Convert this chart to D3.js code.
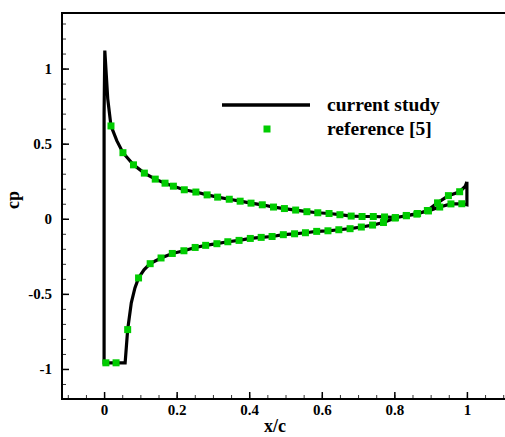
<!DOCTYPE html>
<html lang="en">
<head>
    <meta charset="UTF-8">
    <title>cp distribution</title>
    <style>
        body { margin: 0; background: #fff; overflow: hidden; }
        text { font-family: "Liberation Serif", "Times New Roman", serif; font-weight: bold; }
    </style>
</head>
<body>
    <svg id="container" width="505" height="437"></svg>

<script src="https://cdn.jsdelivr.net/npm/d3@7"></script>
<script>
    // current study (closed loop: upper branch from TE to LE, then lower branch back to TE)
    let lineX = [1.0, 0.995, 0.98, 0.949, 0.919, 0.891, 0.862, 0.833, 0.803, 0.773, 0.742, 0.711, 0.681,
        0.650, 0.620, 0.589, 0.559, 0.528, 0.497, 0.467, 0.436, 0.405, 0.375, 0.345, 0.313, 0.284,
        0.253, 0.221, 0.191, 0.168, 0.141, 0.111, 0.081, 0.052, 0.035, 0.019, 0.010, 0.002, 0.0,
        0.0, 0.058, 0.065, 0.075, 0.085, 0.095, 0.110, 0.127, 0.157, 0.188, 0.220, 0.251, 0.280,
        0.311, 0.341, 0.372, 0.403, 0.433, 0.463, 0.494, 0.525, 0.555, 0.586, 0.617, 0.647, 0.678,
        0.709, 0.740, 0.770, 0.802, 0.833, 0.864, 0.894, 0.925, 0.956, 0.986, 1.0, 1.0]
    let lineCp = [0.246, 0.215, 0.180, 0.154, 0.106, 0.055, 0.031, 0.020, 0.008, 0.012, 0.015, 0.015, 0.018,
        0.027, 0.035, 0.040, 0.047, 0.058, 0.068, 0.078, 0.093, 0.104, 0.117, 0.130, 0.144, 0.159,
        0.178, 0.193, 0.217, 0.237, 0.264, 0.304, 0.359, 0.440, 0.520, 0.618, 0.800, 1.120, 0.700,
        -0.960, -0.960, -0.738, -0.560, -0.460, -0.394, -0.340, -0.299, -0.261, -0.231, -0.213, -0.191, -0.177,
        -0.166, -0.153, -0.144, -0.131, -0.124, -0.118, -0.106, -0.100, -0.093, -0.084, -0.080, -0.073, -0.066,
        -0.055, -0.042, -0.025, 0.005, 0.022, 0.035, 0.052, 0.078, 0.099, 0.100, 0.093, 0.246]

    // reference [5]
    let refUpperX = [0.019, 0.052, 0.081, 0.111, 0.141, 0.168, 0.191, 0.221, 0.253, 0.284, 0.313, 0.345,
        0.375, 0.405, 0.436, 0.467, 0.497, 0.528, 0.559, 0.589, 0.620, 0.650, 0.681, 0.711, 0.742,
        0.773, 0.803, 0.833, 0.862, 0.891, 0.919, 0.949, 0.980]
    let refUpperCp = [0.618, 0.440, 0.359, 0.304, 0.264, 0.237, 0.217, 0.193, 0.178, 0.159, 0.144, 0.130,
        0.117, 0.104, 0.093, 0.078, 0.068, 0.058, 0.047, 0.040, 0.035, 0.027, 0.018, 0.015, 0.015,
        0.012, 0.008, 0.020, 0.031, 0.055, 0.106, 0.154, 0.180]
    let refLowerX = [0.005, 0.033, 0.065, 0.095, 0.127, 0.157, 0.188, 0.220, 0.251, 0.280, 0.311, 0.341,
        0.372, 0.403, 0.433, 0.463, 0.494, 0.525, 0.555, 0.586, 0.617, 0.647, 0.678, 0.709, 0.740,
        0.770, 0.802, 0.833, 0.864, 0.894, 0.925, 0.956, 0.986]
    let refLowerCp = [-0.959, -0.959, -0.738, -0.394, -0.299, -0.261, -0.231, -0.213, -0.191, -0.177, -0.166, -0.153,
        -0.144, -0.131, -0.124, -0.118, -0.106, -0.100, -0.093, -0.084, -0.080, -0.073, -0.066, -0.055, -0.042,
        -0.025, 0.005, 0.022, 0.035, 0.052, 0.078, 0.099, 0.100]

    let xMajor = [0, 0.2, 0.4, 0.6, 0.8, 1]
    let yMajor = [-1, -0.5, 0, 0.5, 1]
    let seriesNames = ["current study", "reference [5]"]

    let svg = d3.select("#container")
    let green = "#00cc00"
    let plotLeft = 62, plotTop = 13, plotBottom = 399

    let xScale = d3.scaleLinear().domain([-0.116, 1.116]).range([plotLeft, 509])
    let yScale = d3.scaleLinear().domain([-1.2, 1.37]).range([plotBottom, plotTop])

    let xMinor = d3.range(-2, 23).map(i => i * 0.05)
    let yMinor = d3.range(-11, 14).map(i => i / 10)
    let fmt = d => String(d)

    // minor ticks
    svg.append("g")
        .attr("transform", `translate(0,${plotBottom})`)
        .call(d3.axisBottom(xScale).tickValues(xMinor).tickSize(-4).tickFormat(""))
        .call(g => g.select(".domain").remove())
        .selectAll("line").attr("stroke", "#333").attr("stroke-width", 1)
    svg.append("g")
        .attr("transform", `translate(${plotLeft},0)`)
        .call(d3.axisLeft(yScale).tickValues(yMinor).tickSize(-4).tickFormat(""))
        .call(g => g.select(".domain").remove())
        .selectAll("line").attr("stroke", "#333").attr("stroke-width", 1)

    // major ticks with labels
    let xAxis = svg.append("g")
        .attr("transform", `translate(0,${plotBottom})`)
        .call(d3.axisBottom(xScale).tickValues(xMajor).tickSize(-7).tickPadding(5).tickFormat(fmt))
    xAxis.select(".domain").remove()
    xAxis.selectAll("line").attr("stroke", "#000").attr("stroke-width", 1.5)
    xAxis.selectAll("text").attr("font-size", 15).attr("fill", "#000")
        .attr("font-family", "Liberation Serif").attr("font-weight", "bold")

    let yAxis = svg.append("g")
        .attr("transform", `translate(${plotLeft},0)`)
        .call(d3.axisLeft(yScale).tickValues(yMajor).tickSize(-7).tickPadding(10).tickFormat(fmt))
    yAxis.select(".domain").remove()
    yAxis.selectAll("line").attr("stroke", "#000").attr("stroke-width", 1.5)
    yAxis.selectAll("text").attr("font-size", 15).attr("fill", "#000")
        .attr("font-family", "Liberation Serif").attr("font-weight", "bold")

    // frame (right side lies outside the picture)
    svg.append("path")
        .attr("d", `M520,${plotTop}H${plotLeft}V${plotBottom}H520`)
        .attr("fill", "none").attr("stroke", "#000").attr("stroke-width", 2)

    // axis titles
    svg.append("text")
        .attr("x", 275).attr("y", 432)
        .attr("text-anchor", "middle").attr("font-size", 18)
        .text("x/c")
    svg.append("text")
        .attr("transform", "translate(19,200) rotate(-90)")
        .attr("text-anchor", "middle").attr("font-size", 18)
        .text("cp")

    // current study line
    let lineData = lineX.map((x, i) => [x, lineCp[i]])
    let line = d3.line().x(d => xScale(d[0])).y(d => yScale(d[1]))
    svg.append("path")
        .datum(lineData)
        .attr("d", line)
        .attr("fill", "none")
        .attr("stroke", "#000")
        .attr("stroke-width", 3.2)

    // reference markers
    let refData = refUpperX.map((x, i) => [x, refUpperCp[i]])
        .concat(refLowerX.map((x, i) => [x, refLowerCp[i]]))
    let ms = 7
    svg.append("g").selectAll("rect")
        .data(refData)
        .enter()
        .append("rect")
        .attr("x", d => xScale(d[0]) - ms / 2)
        .attr("y", d => yScale(d[1]) - ms / 2)
        .attr("width", ms).attr("height", ms)
        .attr("fill", green)

    // legend
    let legend = svg.append("g")
    legend.append("line")
        .attr("x1", 222).attr("x2", 310).attr("y1", 105).attr("y2", 105)
        .attr("stroke", "#000").attr("stroke-width", 3.5)
    legend.append("rect")
        .attr("x", 267 - 3.5).attr("y", 129 - 3.5)
        .attr("width", 7).attr("height", 7).attr("fill", green)
    legend.selectAll("text.lab")
        .data(seriesNames)
        .enter()
        .append("text")
        .attr("class", "lab")
        .attr("x", 327)
        .attr("y", (d, i) => 111 + i * 24)
        .attr("font-size", 19.5)
        .text(d => d)
</script>
</body>
</html>
